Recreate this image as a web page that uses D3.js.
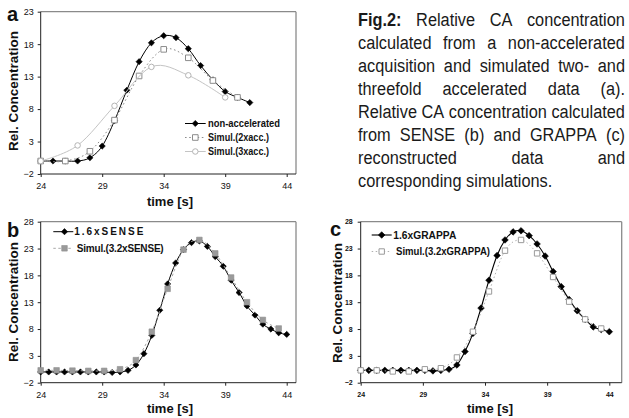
<!DOCTYPE html>
<html><head><meta charset="utf-8">
<script src="https://cdn.jsdelivr.net/npm/d3@7/dist/d3.min.js"></script>
<style>body{margin:0;background:#fff}svg{display:block}</style>
</head><body><script>
// ---------------- data ----------------
const xTickValues = [24, 29, 34, 39, 44];
const yTicksA = [-2, 3, 8, 13, 18, 23];
const yTicksBC = [-2, 3, 8, 13, 18, 23, 28];

// panel a
const timeA_nonacc = [24, 25, 26, 27, 28, 29, 30, 31, 32, 33, 34, 35, 36, 37, 38, 39, 40, 41];
const valA_nonacc  = [0, 0, 0, 0, 0.5, 2.3, 6.2, 10.9, 15.3, 18.2, 19.3, 19.0, 17.3, 14.7, 12.5, 10.7, 9.8, 9.0];
const timeA_2x = [24, 26, 28, 30, 32, 34, 36, 38, 40];
const valA_2x  = [0, 0, 1.5, 6.3, 13.1, 17.2, 15.9, 12.4, 9.8];
const timeA_3x = [24, 27, 30, 33, 36, 39];
const valA_3x  = [0, 2.4, 8.5, 14.5, 13.2, 9.8];

// panels b and c
const timeBC = [24.0, 24.65, 25.29, 25.94, 26.58, 27.23, 27.87, 28.52, 29.16, 29.81, 30.45, 31.1, 31.74, 32.39, 33.03, 33.68,
                34.32, 34.97, 35.61, 36.26, 36.9, 37.55, 38.19, 38.84, 39.48, 40.13, 40.77, 41.42, 42.06, 42.71, 43.35, 44.0];
const timeSimBC = [24.0, 25.29, 26.58, 27.87, 29.16, 30.45, 31.74, 33.03, 34.32, 35.61, 36.9, 38.19, 39.48, 40.77, 42.06, 43.35];
const valB_sense = [0, 0, 0, 0, 0, 0, 0, 0, 0, -0.1, 0, 0.3, 1.3, 3.4, 6.8, 11.5,
                    16.4, 20.3, 22.8, 24.1, 24.4, 23.4, 21.5, 19.7, 17.1, 14.8, 12.3, 10.6, 8.9, 8.0, 7.3, 7.0];
const valB_sim = [0.3, 0.3, 0.25, 0.2, 0.2, 0.5, 2.2, 7.5, 15.5, 22.8, 24.6, 22.1, 17.6, 13.0, 9.7, 8.1];
const valC_grappa = [0.3, 0.3, 0.3, 0.3, 0.3, 0.3, 0.3, 0.3, 0.3, 0.2, 0.3, 0.5, 1.3, 3.8, 7.2, 11.9,
                     17.1, 21.7, 24.6, 26.1, 26.3, 25.4, 23.85, 21.6, 18.7, 15.9, 13.5, 11.4, 9.8, 8.4, 7.9, 7.5];
const valC_sim = [0.3, 0.3, 0.1, 0.1, 0.5, 0.7, 2.7, 7.5, 15.0, 22.6, 24.6, 22.1, 17.7, 13.1, 9.8, 8.1];

const legendA = ["non-accelerated", "Simul.(2xacc.)", "Simul.(3xacc.)"];
const legendB = ["1.6xSENSE", "Simul.(3.2xSENSE)"];
const legendC = ["1.6xGRAPPA", "Simul.(3.2xGRAPPA)"];

const captionLines = [
  ["Fig.2:", "Relative", "CA", "concentration"],
  ["calculated", "from", "a", "non-accelerated"],
  ["acquisition", "and", "simulated", "two-", "and"],
  ["threefold", "accelerated", "data", "(a)."],
  ["Relative", "CA", "concentration", "calculated"],
  ["from", "SENSE", "(b)", "and", "GRAPPA", "(c)"],
  ["reconstructed", "data", "and"],
  ["corresponding", "simulations."]
];

// ---------------- drawing ----------------
const W = 629, H = 418;
const FONT = "'Liberation Sans', Arial, Helvetica, sans-serif";
const svg = d3.select("body").append("svg").attr("width", W).attr("height", H)
  .style("font-family", FONT);

const zip = (a, b) => a.map((v, i) => [v, b[i]]);
const diamond = r => `M0,${-r}L${r},0L0,${r}L${-r},0Z`;
const square = s => `M${-s/2},${-s/2}h${s}v${s}h${-s}Z`;

function makePanel(box, yDomain, yTicks, tickStyle) {
  const x = d3.scaleLinear().domain([24, 44]).range([box.x0, box.xEnd]);
  const y = d3.scaleLinear().domain(yDomain).range([box.y1, box.y0]);
  const g = svg.append("g");
  g.append("line").attr("x1", box.x0).attr("x2", box.x1).attr("y1", box.y0).attr("y2", box.y0)
    .attr("stroke", "#8a8a8a").attr("stroke-width", 1.3);
  g.append("line").attr("x1", box.x1).attr("x2", box.x1).attr("y1", box.y0).attr("y2", box.y1)
    .attr("stroke", "#8a8a8a").attr("stroke-width", 1.3);
  g.append("line").attr("x1", box.x0).attr("x2", box.x0).attr("y1", box.y0).attr("y2", box.y1)
    .attr("stroke", "#222").attr("stroke-width", 1);
  g.append("line").attr("x1", box.x0).attr("x2", box.x1).attr("y1", box.y1).attr("y2", box.y1)
    .attr("stroke", "#222").attr("stroke-width", 1);

  const ya = g.append("g").attr("transform", `translate(${box.x0},0)`)
    .call(d3.axisLeft(y).tickValues(yTicks).tickSize(3).tickSizeOuter(0).tickPadding(tickStyle.padY));
  const xa = g.append("g").attr("transform", `translate(0,${box.y1})`)
    .call(d3.axisBottom(x).tickValues(xTickValues).tickSize(3).tickSizeOuter(0).tickPadding(tickStyle.padX));
  [ya, xa].forEach(a => {
    a.select(".domain").remove();
    a.selectAll(".tick line").attr("stroke", "#222");
    a.selectAll(".tick text").attr("font-family", FONT).attr("font-size", tickStyle.size)
      .attr("font-weight", tickStyle.weight).attr("fill", "#111");
  });
  return {g, x, y};
}

function series(p, data, st) {
  const line = d3.line().x(d => p.x(d[0])).y(d => p.y(d[1])).curve(d3.curveCatmullRom.alpha(0));
  p.g.append("path").datum(data).attr("d", line).attr("fill", "none")
    .attr("stroke", st.lineColor).attr("stroke-width", st.lineWidth || 1)
    .attr("stroke-dasharray", st.dash || null);
  p.g.selectAll(null).data(data).enter().append("path")
    .attr("transform", d => `translate(${p.x(d[0])},${p.y(d[1])})`)
    .attr("d", st.shape).attr("fill", st.fill).attr("stroke", st.stroke).attr("stroke-width", st.sw || 1);
}

function legendRow(g, lx0, lx1, mx, tx, cy, st, label, font, tlen, adj) {
  g.append("line").attr("x1", lx0).attr("x2", lx1).attr("y1", cy).attr("y2", cy)
    .attr("stroke", st.lineColor).attr("stroke-width", st.lineWidth || 1)
    .attr("stroke-dasharray", st.dash || null);
  g.append("path").attr("transform", `translate(${mx},${cy})`).attr("d", st.shape)
    .attr("fill", st.fill).attr("stroke", st.stroke).attr("stroke-width", st.sw || 1);
  g.append("text").attr("x", tx).attr("y", cy + font * 0.36).attr("font-size", font)
    .attr("font-weight", "bold").attr("fill", "#111")
    .attr("textLength", tlen).attr("lengthAdjust", adj || "spacingAndGlyphs").text(label);
}

function titles(label, lx, ly, ylx, yly, xcx, xby, lsize) {
  svg.append("text").attr("x", lx).attr("y", ly).attr("font-size", lsize).attr("font-weight", "bold")
    .attr("fill", "#111").text(label);
  svg.append("text").attr("transform", `translate(${ylx},${yly}) rotate(-90)`).attr("text-anchor", "middle")
    .attr("font-size", 13.5).attr("font-weight", "bold").attr("fill", "#111").text("Rel. Concentration");
  svg.append("text").attr("x", xcx).attr("y", xby).attr("text-anchor", "middle")
    .attr("font-size", 13).attr("font-weight", "bold").attr("fill", "#111").text("time [s]");
}

// styles
const stNon  = {lineColor: "#000", shape: diamond(3.1), fill: "#000", stroke: "#000", sw: 0.6};
const st2x   = {lineColor: "#8c8c8c", dash: "1.6,2.6", shape: square(5.6), fill: "#fff", stroke: "#8c8c8c"};
const st3x   = {lineColor: "#c4c4c4", shape: d3.symbol(d3.symbolCircle, 24)(), fill: "#fff", stroke: "#b4b4b4"};
const stSense = {lineColor: "#000", shape: diamond(3.1), fill: "#000", stroke: "#000", sw: 0.6};
const stSimB  = {lineColor: "#a8a8a8", dash: "2.5,2.5", shape: square(5.6), fill: "#9a9a9a", stroke: "#8f8f8f", sw: 0.6};
const stGrap  = {lineColor: "#000", lineWidth: 1.1, shape: diamond(3.3), fill: "#000", stroke: "#000", sw: 0.6};
const stSimC  = {lineColor: "#b0b0b0", dash: "1.5,2.5", shape: square(5.4), fill: "#fff", stroke: "#9a9a9a"};

// panel a
const pa = makePanel({x0: 40.7, xEnd: 286.7, x1: 296, y0: 11.7, y1: 174}, [-2, 23], yTicksA,
  {size: 9, weight: "normal", padX: 6, padY: 4});
series(pa, zip(timeA_nonacc, valA_nonacc), stNon);
series(pa, zip(timeA_2x, valA_2x), st2x);
series(pa, zip(timeA_3x, valA_3x), st3x);
legendRow(pa.g, 185, 205.7, 195.3, 208, 123.5, stNon, legendA[0], 10.5, 72);
legendRow(pa.g, 185, 205.7, 195.3, 208, 137.5, st2x, legendA[1], 10.5, 61);
legendRow(pa.g, 185, 205.7, 195.3, 208, 151.5, st3x, legendA[2], 10.5, 61);
titles("a", 7, 21, 18, 91, 170, 206, 20);

// panel b
const pb = makePanel({x0: 40.7, xEnd: 286.7, x1: 296, y0: 221.7, y1: 382.7}, [-2, 28], yTicksBC,
  {size: 9, weight: "normal", padX: 6, padY: 4});
series(pb, zip(timeBC, valB_sense), stSense);
series(pb, zip(timeSimBC, valB_sim), stSimB);
legendRow(pb.g, 53.3, 73.3, 64.5, 74.3, 231.7, stSense, legendB[0], 10, 69, "spacing");
legendRow(pb.g, 53.3, 73.3, 64.5, 76.7, 248.3, stSimB, legendB[1], 10, 87, "spacing");
titles("b", 7, 237, 18, 302, 170, 413, 20);

// panel c
const pc = makePanel({x0: 360.7, xEnd: 609.3, x1: 621.7, y0: 221.7, y1: 382.7}, [-2, 28], yTicksBC,
  {size: 7, weight: "bold", padX: 6, padY: 5});
series(pc, zip(timeBC, valC_grappa), stGrap);
series(pc, zip(timeSimBC, valC_sim), stSimC);
legendRow(pc.g, 371.7, 391.7, 381.7, 393.3, 235, stGrap, legendC[0], 10, 63);
legendRow(pc.g, 371.7, 391.7, 381.7, 396, 251.5, stSimC, legendC[1], 10, 94);
titles("c", 330, 236, 342, 303, 490, 413, 20);

// caption (justified, condensed)
const capLeft = 358, capRight = 625, capBase = 26, capLead = 23, capSize = 19, capSx = 0.86;
const capG = svg.append("g").attr("font-size", capSize).attr("fill", "#1a1a1a");
captionLines.forEach((words, li) => {
  const yb = capBase + li * capLead;
  const nodes = words.map((w, wi) => capG.append("text")
    .attr("font-weight", (li === 0 && wi === 0) ? "bold" : "normal").text(w));
  const widths = nodes.map(n => n.node().getComputedTextLength() * capSx);
  const total = d3.sum(widths);
  const isLast = li === captionLines.length - 1;
  const gap = isLast ? capSize * 0.278 * capSx : (capRight - capLeft - total) / (words.length - 1);
  let cx = capLeft;
  nodes.forEach((n, i) => {
    n.attr("transform", `translate(${cx},${yb}) scale(${capSx},1)`);
    cx += widths[i] + gap;
  });
});
</script></body></html>
